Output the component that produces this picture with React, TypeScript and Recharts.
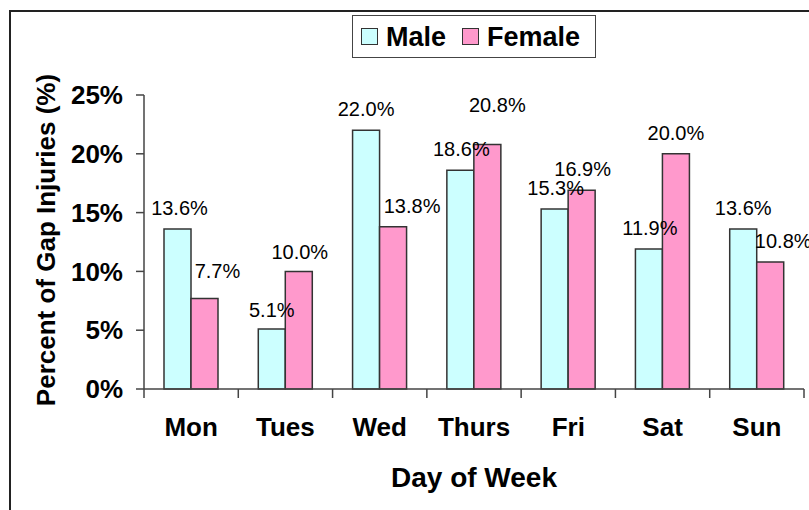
import { BarChart, Bar, XAxis, YAxis, LabelList } from "recharts";

const days = ["Mon", "Tues", "Wed", "Thurs", "Fri", "Sat", "Sun"];
const male = [13.6, 5.1, 22.0, 18.6, 15.3, 11.9, 13.6];
const female = [7.7, 10.0, 13.8, 20.8, 16.9, 20.0, 10.8];
const yTicks = [0, 5, 10, 15, 20, 25];

const series = [
  { key: "male", name: "Male", color: "#CCFFFF" },
  { key: "female", name: "Female", color: "#FF99CC" },
];

// hand-moved label nudges [dx, dy], as in the original chart
const maleNudge = [[2, 0], [0, 2], [0, 0], [1, 0], [1, 0], [1, 0], [0, 0]];
const femaleNudge = [[13, -6], [1, 2], [19, 0], [10, -18], [1, 0], [0, 0], [13, 0]];

const data = days.map((day, i) => ({ day, male: male[i], female: female[i] }));

const FONT = '"Liberation Sans", Arial, sans-serif';
const AXIS = "#444";

function makeLabel(nudge: number[][]) {
  return (props: any) => {
    const { x, y, width, value, index } = props;
    const [dx, dy] = nudge[index] || [0, 0];
    return (
      <text
        x={x + width / 2 + dx}
        y={y - 21 + dy}
        textAnchor="middle"
        dominantBaseline="central"
        fontFamily={FONT}
        fontSize={20}
        fill="#000"
      >
        {Number(value).toFixed(1)}%
      </text>
    );
  };
}

function DayTick(props: any) {
  const { x, y, payload, index, width } = props;
  const band = (width || 660) / days.length;
  const left = x - band / 2;
  return (
    <g>
      <line x1={left} y1={y} x2={left} y2={y + 9} stroke={AXIS} strokeWidth={1.5} />
      {index === days.length - 1 && (
        <line x1={x + band / 2} y1={y} x2={x + band / 2} y2={y + 9} stroke={AXIS} strokeWidth={1.5} />
      )}
      <text
        x={x}
        y={y + 38}
        textAnchor="middle"
        dominantBaseline="central"
        fontFamily={FONT}
        fontWeight="bold"
        fontSize={26}
        fill="#000"
      >
        {payload.value}
      </text>
    </g>
  );
}

function YTitle(props: any) {
  const { viewBox } = props;
  const cx = 46;
  const cy = viewBox.y + viewBox.height / 2 - 2;
  return (
    <text
      x={cx}
      y={cy}
      transform={`rotate(-90 ${cx} ${cy})`}
      textAnchor="middle"
      dominantBaseline="central"
      fontFamily={FONT}
      fontWeight="bold"
      fontSize={26}
      fill="#000"
    >
      Percent of Gap Injuries (%)
    </text>
  );
}

function XTitle(props: any) {
  const { viewBox } = props;
  return (
    <text
      x={viewBox.x + viewBox.width / 2}
      y={viewBox.y + 88}
      textAnchor="middle"
      dominantBaseline="central"
      fontFamily={FONT}
      fontWeight="bold"
      fontSize={28}
      fill="#000"
    >
      Day of Week
    </text>
  );
}

export default function App() {
  return (
    <div style={{ position: "absolute", left: 0, top: 0, width: 809, height: 510, background: "#fff", overflow: "hidden" }}>
      <div
        style={{
          position: "absolute",
          left: 9,
          top: 10,
          width: 900,
          height: 600,
          border: "2px solid #222",
        }}
      />
      <div
        style={{
          position: "absolute",
          left: 352,
          top: 15,
          width: 244,
          height: 43,
          boxSizing: "border-box",
          border: "1.5px solid #444",
          display: "flex",
          alignItems: "center",
          paddingLeft: 8,
          fontFamily: FONT,
          fontWeight: "bold",
          fontSize: 27,
          background: "#fff",
        }}
      >
        {series.map((s, i) => (
          <div key={s.key} style={{ display: "flex", alignItems: "center", marginLeft: i === 0 ? 0 : 16 }}>
            <div
              style={{
                width: 17,
                height: 17,
                boxSizing: "border-box",
                background: s.color,
                border: "1.5px solid #333",
                marginRight: 8,
              }}
            />
            <span style={{ lineHeight: "30px" }}>{s.name}</span>
          </div>
        ))}
      </div>
      <div style={{ position: "absolute", left: 0, top: 0 }}>
        <BarChart
          width={809}
          height={510}
          data={data}
          margin={{ top: 95, right: 5, bottom: 0, left: 0 }}
          barGap={0}
        >
          <YAxis
            width={144}
            domain={[0, 25]}
            ticks={yTicks}
            interval={0}
            tickFormatter={(v: number) => `${v}%`}
            tickSize={8}
            tickMargin={13}
            axisLine={{ stroke: AXIS, strokeWidth: 1.5 }}
            tickLine={{ stroke: AXIS, strokeWidth: 1.5 }}
            tick={{ fontFamily: FONT, fontWeight: "bold", fontSize: 26, fill: "#000" }}
            label={<YTitle />}
          />
          <XAxis
            dataKey="day"
            height={121}
            interval={0}
            tickSize={0}
            tickMargin={0}
            tickLine={false}
            axisLine={{ stroke: AXIS, strokeWidth: 1.5 }}
            tick={<DayTick />}
            label={<XTitle />}
          />
          <Bar dataKey="male" name="Male" fill={series[0].color} stroke="#333" strokeWidth={1.5} barSize={27} isAnimationActive={false}>
            <LabelList dataKey="male" content={makeLabel(maleNudge)} />
          </Bar>
          <Bar dataKey="female" name="Female" fill={series[1].color} stroke="#333" strokeWidth={1.5} barSize={27} isAnimationActive={false}>
            <LabelList dataKey="female" content={makeLabel(femaleNudge)} />
          </Bar>
        </BarChart>
      </div>
    </div>
  );
}
